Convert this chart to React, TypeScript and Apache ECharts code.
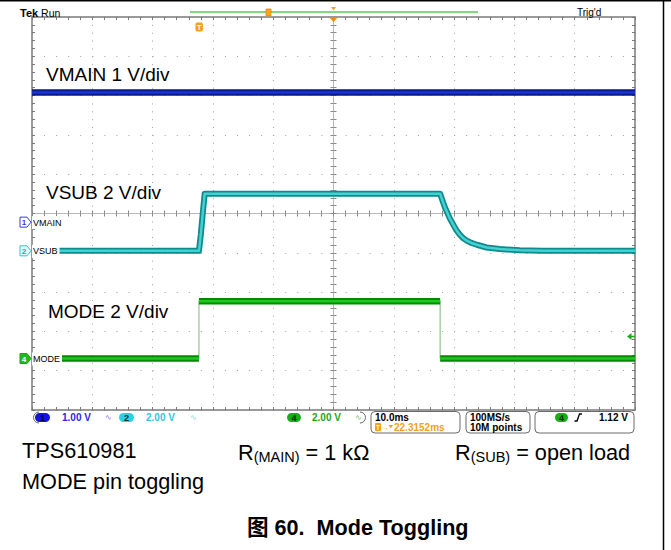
import React, { useEffect, useRef } from 'react';
import * as echarts from 'echarts';

// ---- scope settings ----
const TIME_PER_DIV_MS = 10;
const H_DIVS = 10;
const V_DIVS = 10;
const HPOS_MS = 22.3152; // trigger -> screen centre
const TRIG_LEVEL_V = 1.12;

const VMAIN_VDIV = 1;
const VMAIN_GND_DIV = -0.22;
const VSUB_VDIV = 2;
const VSUB_GND_DIV = -0.95;
const MODE_VDIV = 2;
const MODE_GND_DIV = -3.69;

// ---- traces (time in ms relative to trigger, volts) ----
const vmainTimeMs = [-27.68, 72.32];
const vmainVolts = [3.3, 3.3];

const vsubTimeMs = [-27.68, 0, 0.3, 0.6, 0.95, 20, 40, 40.4, 40.8, 41.1, 41.6, 42.2, 42.7, 43.3, 43.8, 44.4, 45.2, 46.1, 47.7, 49.9, 53.2, 57, 72.32];
const vsubVolts = [0, 0, 0.8, 1.8, 2.9, 2.9, 2.9, 2.55, 2.2, 2.0, 1.65, 1.32, 1.05, 0.81, 0.65, 0.52, 0.4, 0.31, 0.17, 0.09, 0.03, 0, 0];

const modeTimeMs = [-27.68, 0, 0, 40, 40, 72.32];
const modeVolts = [0, 0, 2.92, 2.92, 0, 0];

// ---- texts ----
const traceLabels = ['VMAIN 1 V/div', 'VSUB 2 V/div', 'MODE 2 V/div'];
const chNames = ['VMAIN', 'VSUB', 'MODE'];
const statusTexts = ['1.00 V', '2.00 V', '2.00 V', '10.0ms', '22.3152ms', '100MS/s', '10M points', '1.12 V'];
const captionLines = ['TPS610981', 'MODE pin toggling'];
const figTitle = '图 60.  Mode Toggling';

const F = 'Liberation Sans, Arial, Helvetica, "Noto Sans CJK SC", sans-serif';

const toPts = (t: number[], v: number[], vdiv: number, gnd: number) =>
  t.map((tt, i) => [tt - HPOS_MS, v[i] / vdiv + gnd]);

// thick segments: break at vertical edges (same time twice)
const toThick = (t: number[], v: number[], vdiv: number, gnd: number) => {
  const out: any[] = [];
  for (let i = 0; i < t.length; i++) {
    if (i > 0 && t[i] === t[i - 1]) out.push([t[i] - HPOS_MS, '-']);
    out.push([t[i] - HPOS_MS, v[i] / vdiv + gnd]);
  }
  return out;
};

const GRID = { left: 32, top: 17, width: 603, height: 393 };
const HALF_T = (H_DIVS / 2) * TIME_PER_DIV_MS;
const HALF_V = V_DIVS / 2;

function borderX(pos: 'top' | 'bottom') {
  return {
    type: 'value', gridIndex: 0, position: pos, min: -HALF_T, max: HALF_T, interval: TIME_PER_DIV_MS,
    axisLine: { show: true, onZero: false, lineStyle: { color: '#7a7a7a', width: 1.5 } },
    axisTick: { show: true, inside: true, length: 3, lineStyle: { color: '#7a7a7a' } },
    minorTick: { show: true, splitNumber: 5, length: 3, lineStyle: { color: '#7a7a7a' } },
    axisLabel: { show: false },
    splitLine: pos === 'bottom'
      ? { show: true, lineStyle: { color: '#a0a0a0', width: 1, type: [1, 6.86] } }
      : { show: false },
  };
}
function borderY(pos: 'left' | 'right') {
  return {
    type: 'value', gridIndex: 0, position: pos, min: -HALF_V, max: HALF_V, interval: 1,
    axisLine: { show: true, onZero: false, lineStyle: { color: '#7a7a7a', width: 1.5 } },
    axisTick: { show: true, inside: true, length: 3, lineStyle: { color: '#7a7a7a' } },
    minorTick: { show: true, splitNumber: 5, length: 3, lineStyle: { color: '#7a7a7a' } },
    axisLabel: { show: false },
    splitLine: pos === 'left'
      ? { show: true, lineStyle: { color: '#a0a0a0', width: 1, type: [1, 11.06] } }
      : { show: false },
  };
}
function crossX(pos: 'top' | 'bottom') {
  return {
    type: 'value', gridIndex: 1, position: pos, min: -HALF_T, max: HALF_T, interval: TIME_PER_DIV_MS,
    axisLine: { show: true, onZero: true, onZeroAxisIndex: 2, lineStyle: { color: '#b8b8b8', width: 1 } },
    axisTick: { show: true, inside: false, length: 3, lineStyle: { color: '#8a8a8a' } },
    minorTick: { show: true, splitNumber: 5, length: 3, lineStyle: { color: '#8a8a8a' } },
    axisLabel: { show: false },
    splitLine: { show: false },
  };
}
function crossY(pos: 'left' | 'right') {
  return {
    type: 'value', gridIndex: 1, position: pos, min: -HALF_V, max: HALF_V, interval: 1,
    axisLine: { show: true, onZero: true, onZeroAxisIndex: 2, lineStyle: { color: '#b8b8b8', width: 1 } },
    axisTick: { show: true, inside: false, length: 3, lineStyle: { color: '#8a8a8a' } },
    minorTick: { show: true, splitNumber: 5, length: 3, lineStyle: { color: '#8a8a8a' } },
    axisLabel: { show: false },
    splitLine: { show: false },
  };
}

function lineSeries(data: any[], color: string, width: number, z: number) {
  return {
    type: 'line', xAxisIndex: 0, yAxisIndex: 0, data, showSymbol: false, symbol: 'none',
    silent: true, z, connectNulls: false,
    lineStyle: { color, width, join: 'round', cap: 'butt' },
  };
}

function buildOption() {
  const vmain = toPts(vmainTimeMs, vmainVolts, VMAIN_VDIV, VMAIN_GND_DIV);
  const vsub = toPts(vsubTimeMs, vsubVolts, VSUB_VDIV, VSUB_GND_DIV);
  const mode = toPts(modeTimeMs, modeVolts, MODE_VDIV, MODE_GND_DIV);
  const modeThick = toThick(modeTimeMs, modeVolts, MODE_VDIV, MODE_GND_DIV);
  return {
    animation: false,
    backgroundColor: '#ffffff',
    grid: [{ ...GRID }, { ...GRID }],
    xAxis: [borderX('bottom'), borderX('top'), crossX('bottom'), crossX('top')],
    yAxis: [borderY('left'), borderY('right'), crossY('left'), crossY('right')],
    series: [
      lineSeries(vmain, '#0a1a8e', 6.5, 10),
      lineSeries(vmain, '#1b36c4', 2.5, 11),
      lineSeries(vsub, '#0f8a8c', 6, 12),
      lineSeries(vsub, '#46d0d2', 2.5, 13),
      lineSeries(mode, '#8cc88c', 1.2, 14),
      lineSeries(modeThick, '#028a02', 6.5, 15),
      lineSeries(modeThick, '#22c422', 2.5, 16),
    ],
  };
}

function buildGraphics(chart: any) {
  const px = (tRel: number, div: number) =>
    chart.convertToPixel({ xAxisIndex: 0, yAxisIndex: 0 }, [tRel - HPOS_MS, div]) as number[];
  const g: any[] = [];
  const text = (x: number, y: number, t: string, st: any = {}, z = 100) =>
    g.push({ type: 'text', x, y, z, silent: true, style: { text: t, fontFamily: F, fontSize: 10, fill: '#000', align: 'left', verticalAlign: 'middle', ...st } });

  // page border (top, right)
  g.push({ type: 'line', z: 100, shape: { x1: 0, y1: 0.75, x2: 671, y2: 0.75 }, style: { stroke: '#000', lineWidth: 1.5 } });
  g.push({ type: 'line', z: 100, shape: { x1: 663.5, y1: 0, x2: 663.5, y2: 550 }, style: { stroke: '#000', lineWidth: 1.5 } });

  // header
  g.push({ type: 'text', x: 20, y: 12.5, z: 100, style: { text: '{b|Tek}{n| Run}', align: 'left', verticalAlign: 'middle', rich: { b: { fontFamily: F, fontSize: 11, fontWeight: 'bold', fill: '#000' }, n: { fontFamily: F, fontSize: 10.5, fill: '#000' } } } });
  text(577, 12.5, "Trig'd", { fontSize: 10 });

  // record view line + markers
  g.push({ type: 'line', z: 100, shape: { x1: 190, y1: 12, x2: 478, y2: 12 }, style: { stroke: '#55cc55', lineWidth: 1.5 } });
  g.push({ type: 'rect', z: 101, shape: { x: 266, y: 9, width: 5, height: 7 }, style: { fill: '#f5a623', stroke: '#d88a10', lineWidth: 0.8 } });
  const cx = px(HPOS_MS, HALF_V)[0];
  g.push({ type: 'polygon', z: 101, shape: { points: [[cx - 2.5, 7], [cx + 2.5, 7], [cx, 10.5]] }, style: { fill: '#f5a020' } });
  g.push({ type: 'polygon', z: 101, shape: { points: [[cx - 4.5, 17], [cx + 4.5, 17], [cx, 22]] }, style: { fill: '#f08c00' } });

  // trigger point marker
  const tx = px(0, HALF_V)[0];
  g.push({ type: 'rect', z: 101, shape: { x: tx - 3.5, y: 22.5, width: 7.5, height: 9, r: 2 }, style: { fill: '#f5a01a' } });
  text(tx + 0.3, 27, 'T', { fontSize: 8, fontWeight: 'bold', fill: '#fff', align: 'center' }, 102);

  // channel ground markers
  const chs = [
    { n: '1', name: chNames[0], gnd: VMAIN_GND_DIV, stroke: '#3a3ae0', fill: '#ffffff', tc: '#3a3ae0' },
    { n: '2', name: chNames[1], gnd: VSUB_GND_DIV, stroke: '#2cc6d0', fill: '#e6fbfc', tc: '#1aa8b4' },
    { n: '4', name: chNames[2], gnd: MODE_GND_DIV, stroke: '#14a814', fill: '#22b822', tc: '#ffffff' },
  ];
  chs.forEach((c) => {
    const y = px(0, c.gnd)[1];
    g.push({ type: 'polygon', z: 101, shape: { points: [[20, y - 5], [27, y - 5], [31, y], [27, y + 5], [20, y + 5]] }, style: { fill: c.fill, stroke: c.stroke, lineWidth: 1 } });
    text(24, y + 0.5, c.n, { fontSize: 8, fontWeight: 'bold', fill: c.tc, align: 'center' }, 102);
    g.push({ type: 'text', x: 32, y: y + 0.5, z: 100, style: { text: c.name, fontFamily: F, fontSize: 9, fill: '#000', align: 'left', verticalAlign: 'middle', backgroundColor: '#ffffff', padding: [2, 2, 2, 1] } });
  });

  // trigger level arrow (right edge)
  const ty = px(0, MODE_GND_DIV + TRIG_LEVEL_V / MODE_VDIV)[1];
  g.push({ type: 'polygon', z: 101, shape: { points: [[627, ty], [631.5, ty - 3.5], [631.5, ty + 3.5]] }, style: { fill: '#18b018' } });
  g.push({ type: 'line', z: 101, shape: { x1: 630, y1: ty, x2: 635, y2: ty }, style: { stroke: '#18b018', lineWidth: 1.5 } });

  // trace annotations
  text(46, 74.5, traceLabels[0], { fontSize: 19 });
  text(46, 192.5, traceLabels[1], { fontSize: 19 });
  text(48, 311, traceLabels[2], { fontSize: 19 });

  // status bar
  const SB = { fontSize: 10, fontWeight: 'bold' };
  const sy = 417.5;
  g.push({ type: 'arc', z: 100, shape: { cx: 39, cy: sy, r: 5.5, startAngle: Math.PI / 2, endAngle: Math.PI * 1.5, clockwise: true }, style: { stroke: '#6a6a6a', fill: null, lineWidth: 1 } });
  g.push({ type: 'arc', z: 100, shape: { cx: 360, cy: sy, r: 5.5, startAngle: -Math.PI / 2, endAngle: Math.PI / 2, clockwise: true }, style: { stroke: '#6a6a6a', fill: null, lineWidth: 1 } });
  const pill = (x: number, w: number, fill: string, n: string, tc: string) => {
    g.push({ type: 'rect', z: 100, shape: { x, y: 413, width: w, height: 9, r: 4.5 }, style: { fill } });
    text(x + w / 2, sy + 0.3, n, { ...SB, fontSize: 9, fill: tc, align: 'center' }, 101);
  };
  pill(35, 15, '#1414dc', '1', '#000060');
  text(62, sy, statusTexts[0], { ...SB, fill: '#2a2ae0' });
  text(105, sy, '∿', { fontSize: 8, fill: '#7a7ae6' });
  pill(119, 15, '#2cd2de', '2', '#00303a');
  text(146, sy, statusTexts[1], { ...SB, fill: '#2cc8d8' });
  text(190, sy, '∿', { fontSize: 8, fill: '#80d8e0' });
  pill(287, 14, '#16b016', '4', '#002800');
  text(312, sy, statusTexts[2], { ...SB, fill: '#1aa81a' });
  text(355, sy, '∿', { fontSize: 8, fill: '#66c266' });

  const box = (x: number, w: number) =>
    g.push({ type: 'rect', z: 100, shape: { x, y: 411.5, width: w, height: 21.5, r: 4 }, style: { fill: null, stroke: '#6a6a6a', lineWidth: 1 } });
  box(371, 89);
  box(466, 64);
  box(535, 99);
  text(375, sy, statusTexts[3], SB);
  g.push({ type: 'rect', z: 100, shape: { x: 375, y: 423, width: 6, height: 8, r: 1 }, style: { fill: '#f5a01a' } });
  text(378, 427.3, 'T', { fontSize: 6.5, fontWeight: 'bold', fill: '#fff', align: 'center' }, 101);
  text(382, 427.3, '→', { fontSize: 7, fill: '#f5a01a' });
  g.push({ type: 'polygon', z: 100, shape: { points: [[388.5, 425], [393, 425], [390.75, 428.5]] }, style: { fill: '#f5a01a' } });
  text(394, 427.5, statusTexts[4], { ...SB, fill: '#f5a01a' });
  text(470, sy, statusTexts[5], SB);
  text(470, 427.5, statusTexts[6], SB);
  pill(555, 13, '#16b016', '4', '#002800');
  g.push({ type: 'polyline', z: 100, shape: { points: [[574.5, 421], [577, 421], [579.5, 414], [582, 414]] }, style: { stroke: '#000', lineWidth: 1.3, fill: null } });
  text(599, sy, statusTexts[7], SB);

  // captions
  const CAP = { fontSize: 21.7 };
  text(22, 450, captionLines[0], CAP);
  text(22, 481, captionLines[1], CAP);
  const rich = { r: { fontFamily: F, fontSize: 21.7, lineHeight: 25, fill: '#000' }, s: { fontFamily: F, fontSize: 14.5, lineHeight: 14, fill: '#000', verticalAlign: 'bottom' } };
  g.push({ type: 'text', x: 238, y: 452, z: 100, style: { text: '{r|R}{s|(MAIN)}{r| = 1 kΩ}', align: 'left', verticalAlign: 'middle', rich } });
  g.push({ type: 'text', x: 455, y: 452, z: 100, style: { text: '{r|R}{s|(SUB)}{r| = open load}', align: 'left', verticalAlign: 'middle', rich } });
  text(247, 527, figTitle, { fontSize: 21.6, fontWeight: 'bold' });

  return g;
}

export default function App() {
  const ref = useRef<HTMLDivElement>(null);
  useEffect(() => {
    if (!ref.current) return;
    const chart = echarts.init(ref.current, undefined, { renderer: 'svg', width: 671, height: 550 });
    chart.setOption(buildOption() as any);
    chart.setOption({ graphic: buildGraphics(chart) } as any);
    return () => chart.dispose();
  }, []);
  return (
    <div
      ref={ref}
      style={{ position: 'absolute', left: 0, top: 0, width: 671, height: 550, background: '#fff' }}
    />
  );
}
